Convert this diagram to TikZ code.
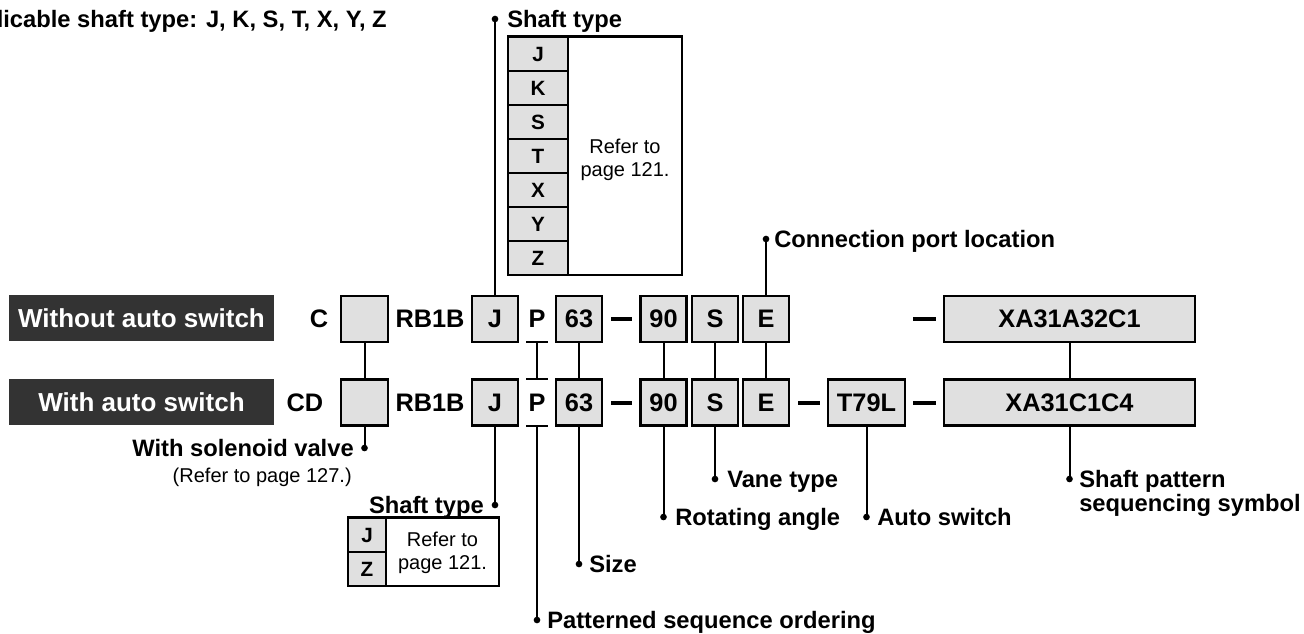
\documentclass[tikz,border=0pt]{standalone}
\usepackage{fontspec}
\setmainfont{Liberation Sans}
\definecolor{boxgray}{RGB}{224,224,224}
\definecolor{darkbg}{RGB}{51,51,51}
\begin{document}
\begin{tikzpicture}[x=0.75pt,y=-0.75pt,
  box/.style={draw, line width=2pt, fill=boxgray, inner sep=0pt, outer sep=0pt,
    minimum height=34.5pt, minimum width=34.5pt, font=\fontsize{19}{19}\selectfont\bfseries},
  plain/.style={inner sep=0pt, font=\fontsize{19}{19}\selectfont\bfseries},
  lbl/.style={inner sep=0pt, text height=12.8pt, text depth=0pt, font=\fontsize{17.8}{21}\selectfont\bfseries},
  note/.style={inner sep=0pt, font=\fontsize{15}{17.5}\selectfont, align=center},
  dark/.style={fill=darkbg, text=white, minimum width=198.75pt, minimum height=34.5pt,
    inner sep=0pt, font=\fontsize{19.5}{20}\selectfont\bfseries},
  conn/.style={line width=1.5pt},
  bar/.style={line width=3pt},
  dot/.style={circle, fill=black, inner sep=0pt, minimum size=5pt},
  cell/.style={draw, line width=1pt, fill=boxgray, inner sep=0pt, minimum height=25.5pt,
    font=\fontsize{15.5}{16}\selectfont\bfseries},
  refcell/.style={draw, line width=1pt, fill=white, inner sep=0pt},
  reftext/.style={inner sep=0pt, font=\fontsize{15}{17.5}\selectfont, align=center}
]
\useasboundingbox (0,0) rectangle (1304,633);

% top-left note
\node[lbl, anchor=east] (app) at (387,19) {Applicable shaft type: J, K, S, T, X, Y, Z};

% dark labels
\node[dark] (wo) at (141.5,318) {Without auto switch};
\node[dark] (wi) at (141.5,402) {With auto switch};

% row 1
\node[plain] (c1) at (319,319) {C};
\node[box, minimum width=35.25pt] (e1) at (364.5,319) {};
\node[plain] (rb1) at (430,319) {RB1B};
\node[box] (j1) at (495,319) {J};
\node[plain] (p1) at (537,319) {P};
\node[box] (s1) at (579,319) {63};
\coordinate (d1a) at (611,319); \coordinate (d1b) at (632,319);
\draw[bar] (d1a) -- (d1b);
\node[box] (a1) at (663.5,319) {90};
\node[box] (v1) at (715,319) {S};
\node[box] (pe1) at (766,319) {E};
\coordinate (d2a) at (913,319); \coordinate (d2b) at (936,319);
\draw[bar] (d2a) -- (d2b);
\node[box, minimum width=188.25pt] (x1) at (1069.5,319) {XA31A32C1};

% row 2
\node[plain] (c2) at (305,402.5) {CD};
\node[box, minimum width=35.25pt] (e2) at (364.5,402.5) {};
\node[plain] (rb2) at (430,402.5) {RB1B};
\node[box] (j2) at (495,402.5) {J};
\node[plain] (p2) at (537,402.5) {P};
\node[box] (s2) at (579,402.5) {63};
\coordinate (d3a) at (611,402.5); \coordinate (d3b) at (632,402.5);
\draw[bar] (d3a) -- (d3b);
\node[box] (a2) at (663.5,402.5) {90};
\node[box] (v2) at (715,402.5) {S};
\node[box] (pe2) at (766,402.5) {E};
\coordinate (d4a) at (798,402.5); \coordinate (d4b) at (820,402.5);
\draw[bar] (d4a) -- (d4b);
\node[box, minimum width=57.75pt] (t2) at (866.5,402.5) {T79L};
\coordinate (d5a) at (913,402.5); \coordinate (d5b) at (936,402.5);
\draw[bar] (d5a) -- (d5b);
\node[box, minimum width=188.25pt] (x2) at (1069.5,402.5) {XA31C1C4};

% P ticks
\coordinate (pt1l) at (526,342); \coordinate (pt1r) at (548,342);
\coordinate (pt2l) at (526,379); \coordinate (pt2r) at (548,379);
\coordinate (pt3l) at (526,426); \coordinate (pt3r) at (548,426);
\coordinate (pt1) at (537,342); \coordinate (pt2) at (537,379); \coordinate (pt3) at (537,426);
\draw[conn] (pt1l) -- (pt1r);
\draw[conn] (pt2l) -- (pt2r);
\draw[conn] (pt3l) -- (pt3r);
\draw[conn] (pt1) -- (pt2);

% connectors between rows
\draw[conn] (e1.south) -- (e2.north);
\draw[conn] (s1.south) -- (s2.north);
\draw[conn] (a1.south) -- (a2.north);
\draw[conn] (v1.south) -- (v2.north);
\draw[conn] (pe1.south) -- (pe2.north);
\draw[conn] (x1.south) -- (x2.north);

% top shaft type
\node[dot] (jd1) at (495,19) {};
\draw[conn] (j1.north) -- (jd1.center);
\node[lbl, anchor=west] (st1) at (507,19) {Shaft type};
\foreach \l [count=\i from 0] in {J,K,S,T,X,Y,Z}{
  \node[cell, minimum width=45pt] (tc\i) at (538,{54+34*\i}) {\l};
}
\node[refcell, minimum width=85.5pt, minimum height=178.5pt] (tr) at (625,156) {};
\node[reftext] (trt) at (625,160) {Refer to\\page 121.};
\draw[line width=2pt] (tc0.north west) -- (tr.north east);

% connection port location
\node[dot] (cd) at (766,239) {};
\draw[conn] (pe1.north) -- (cd.center);
\node[lbl, anchor=west] (cpl) at (774,239) {Connection port location};

% solenoid valve
\node[dot] (svd) at (364.5,448) {};
\draw[conn] (e2.south) -- (svd.center);
\node[lbl, anchor=east] (svl) at (354,448) {With solenoid valve};
\node[note, anchor=east] (svn) at (352,477) {(Refer to page 127.)};

% bottom shaft type
\node[dot] (jd2) at (495,505) {};
\draw[conn] (j2.south) -- (jd2.center);
\node[lbl, anchor=east] (st2) at (484,505) {Shaft type};
\node[cell, minimum width=28.5pt] (bc0) at (367,535) {J};
\node[cell, minimum width=28.5pt] (bc1) at (367,569) {Z};
\node[refcell, minimum width=84.75pt, minimum height=51pt] (br) at (442.5,552) {};
\node[reftext] (brt) at (442.5,553) {Refer to\\page 121.};
\draw[line width=2pt] (bc0.north west) -- (br.north east);

% bottom labels
\node[dot] (pd) at (537,620) {};
\draw[conn] (pt3) -- (pd.center);
\node[lbl, anchor=west] (pl) at (547,620) {Patterned sequence ordering};

\node[dot] (sd) at (579,564) {};
\draw[conn] (s2.south) -- (sd.center);
\node[lbl, anchor=west] (sl) at (589,564) {Size};

\node[dot] (ad) at (663.5,517) {};
\draw[conn] (a2.south) -- (ad.center);
\node[lbl, anchor=west] (al) at (675,517) {Rotating angle};

\node[dot] (vd) at (715,479) {};
\draw[conn] (v2.south) -- (vd.center);
\node[lbl, anchor=west] (vl) at (727,479) {Vane type};

\node[dot] (td) at (866.5,517) {};
\draw[conn] (t2.south) -- (td.center);
\node[lbl, anchor=west] (tl) at (877,517) {Auto switch};

\node[dot] (xd) at (1069.5,479) {};
\draw[conn] (x2.south) -- (xd.center);
\node[lbl, anchor=west] (xl1) at (1079,479) {Shaft pattern};
\node[lbl, anchor=west] (xl2) at (1079,503) {sequencing symbol};
\end{tikzpicture}
\end{document}
